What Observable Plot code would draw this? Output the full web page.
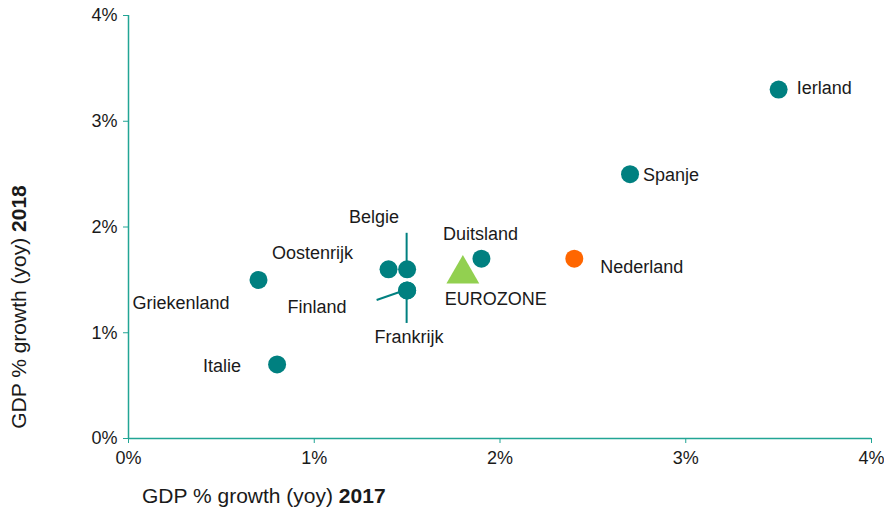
<!DOCTYPE html>
<html>
<head>
<meta charset="utf-8">
<script src="https://cdn.jsdelivr.net/npm/d3@7"></script>
<script src="https://cdn.jsdelivr.net/npm/@observablehq/plot@0.6"></script>
<style>
  body { margin: 0; background: #fff; }
  #chart { width: 884px; height: 510px; }
</style>
</head>
<body>
<div id="chart"></div>
<script>
// Data (GDP % growth yoy)
const countries = ["Ierland", "Spanje", "Nederland", "Duitsland", "Oostenrijk", "Belgie", "Frankrijk", "Finland", "Griekenland", "Italie"];
const growth2017 = [3.5, 2.7, 2.4, 1.9, 1.4, 1.5, 1.5, 1.5, 0.7, 0.8];
const growth2018 = [3.3, 2.5, 1.7, 1.7, 1.6, 1.6, 1.4, 1.4, 1.5, 0.7];
const eurozoneName = ["EUROZONE"];
const eurozone2017 = [1.8];
const eurozone2018 = [1.6];
const ticks = [0, 1, 2, 3, 4];

// Styling: label pixel offsets and leader lines (pixel offsets from the point)
const labelStyle = {
  Ierland:     {dx: 18,  dy: 0,   anchor: "start"},
  Spanje:      {dx: 13,  dy: 2,   anchor: "start"},
  Nederland:   {dx: 26,  dy: 10,  anchor: "start"},
  Duitsland:   {dx: -1,  dy: -23, anchor: "middle"},
  Oostenrijk:  {dx: -76, dy: -15, anchor: "middle"},
  Belgie:      {dx: -33, dy: -51, anchor: "middle"},
  Frankrijk:   {dx: 2,   dy: 48,  anchor: "middle"},
  Finland:     {dx: -90, dy: 18,  anchor: "middle"},
  Griekenland: {dx: -29, dy: 24,  anchor: "end"},
  Italie:      {dx: -36, dy: 3,   anchor: "end"},
  EUROZONE:    {dx: -18, dy: 31,  anchor: "start"}
};
const leaders = [
  {name: "Belgie",    from: [0, -36], to: [0, -7]},
  {name: "Finland",   from: [-30, 10], to: [-7, 2]},
  {name: "Frankrijk", from: [0, 7],   to: [0, 33]}
];

const teal = "#008080";
const axisColor = "#22A595";
const font = "'Liberation Sans', Arial, sans-serif";

const points = countries.map((c, i) => ({name: c, x: growth2017[i], y: growth2018[i]}));
const ez = eurozoneName.map((n, i) => ({name: n, x: eurozone2017[i], y: eurozone2018[i]}));
const allLabels = points.concat(ez);

const colorOf = d => d.name === "Nederland" ? "#FF6600" : teal;

const plot = Plot.plot({
  width: 884,
  height: 510,
  marginLeft: 128,
  marginRight: 13,
  marginTop: 15,
  marginBottom: 72,
  style: {fontFamily: font, fontSize: "18px", color: "#1a1a1a", background: "#fff", overflow: "visible"},
  x: {domain: [0, 4]},
  y: {domain: [0, 4]},
  marks: [
    Plot.axisX({ticks, tickFormat: d => d + "%", tickSize: 5, stroke: axisColor, fill: "#1a1a1a", fontSize: 18, tickPadding: 8, label: null}),
    Plot.axisY({ticks, tickFormat: d => d + "%", tickSize: 5, stroke: axisColor, fill: "#1a1a1a", fontSize: 18, tickPadding: 6, label: null}),
    Plot.ruleY([0], {stroke: axisColor, strokeWidth: 1.5}),
    Plot.ruleX([0], {stroke: axisColor, strokeWidth: 1.5}),
    Plot.dot(points, {x: "x", y: "y", r: 9, fill: colorOf, stroke: "none"}),
    Plot.dot(ez, {x: "x", y: "y", symbol: "triangle", r: 12.2, dy: 4.75, fill: "#92D050", stroke: "none"}),
    Plot.text(allLabels, {x: "x", y: "y", text: "name", fontSize: 18, fill: "#1a1a1a"})
  ]
});

// Apply per-label offsets and anchors (styling), positioned through the plot's scales
const xs = plot.scale("x"), ys = plot.scale("y");
const svg = d3.select(plot);
svg.selectAll("g[aria-label='text'] text").each(function(_, i) {
  const d = allLabels[i];
  const s = labelStyle[d.name];
  d3.select(this)
    .attr("text-anchor", s.anchor)
    .attr("dy", null)
    .attr("transform", null)
    .attr("x", xs.apply(d.x) + s.dx)
    .attr("y", ys.apply(d.y) + s.dy)
    .attr("dominant-baseline", "middle");
});

// Leader lines
const gl = svg.append("g").attr("stroke", teal).attr("stroke-width", 2);
leaders.forEach(l => {
  const d = points.find(p => p.name === l.name);
  const px = xs.apply(d.x), py = ys.apply(d.y);
  gl.append("line")
    .attr("x1", px + l.from[0]).attr("y1", py + l.from[1])
    .attr("x2", px + l.to[0]).attr("y2", py + l.to[1]);
});

// Axis titles with bold year
const xt = svg.append("text")
  .attr("x", 142).attr("y", 497)
  .attr("text-anchor", "start")
  .attr("dominant-baseline", "middle")
  .attr("font-size", 21).attr("fill", "#1a1a1a");
xt.append("tspan").text("GDP % growth (yoy) ");
xt.append("tspan").attr("font-weight", "bold").text("2017");

const yt = svg.append("text")
  .attr("transform", "translate(20,307) rotate(-90)")
  .attr("text-anchor", "middle")
  .attr("dominant-baseline", "middle")
  .attr("font-size", 21).attr("fill", "#1a1a1a");
yt.append("tspan").text("GDP % growth (yoy) ");
yt.append("tspan").attr("font-weight", "bold").text("2018");

document.getElementById("chart").appendChild(plot);
</script>
</body>
</html>
